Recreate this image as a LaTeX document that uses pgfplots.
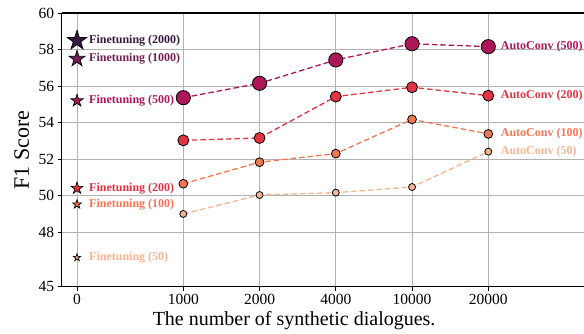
\documentclass[border=0pt]{standalone}
\usepackage{fontspec}
\setmainfont{Liberation Serif}
\usepackage{pgfplots}
\pgfplotsset{compat=1.18}
\definecolor{c1}{HTML}{35193E}
\definecolor{c2}{HTML}{701F57}
\definecolor{c3}{HTML}{AD1759}
\definecolor{c4}{HTML}{E13342}
\definecolor{c5}{HTML}{F37651}
\definecolor{c6}{HTML}{F6B48F}
\pgfdeclareplotmark{fstar}{%
  \pgfpathmoveto{\pgfpointpolar{90}{\pgfplotmarksize}}%
  \pgfpathlineto{\pgfpointpolar{126}{0.382\pgfplotmarksize}}%
  \pgfpathlineto{\pgfpointpolar{162}{\pgfplotmarksize}}%
  \pgfpathlineto{\pgfpointpolar{198}{0.382\pgfplotmarksize}}%
  \pgfpathlineto{\pgfpointpolar{234}{\pgfplotmarksize}}%
  \pgfpathlineto{\pgfpointpolar{270}{0.382\pgfplotmarksize}}%
  \pgfpathlineto{\pgfpointpolar{306}{\pgfplotmarksize}}%
  \pgfpathlineto{\pgfpointpolar{342}{0.382\pgfplotmarksize}}%
  \pgfpathlineto{\pgfpointpolar{18}{\pgfplotmarksize}}%
  \pgfpathlineto{\pgfpointpolar{54}{0.382\pgfplotmarksize}}%
  \pgfpathclose
  \pgfusepathqfillstroke}
\begin{document}
\begin{tikzpicture}
\begin{axis}[
  scale only axis,
  width=522.3pt, height=273.4pt,
  xmin=-0.595, xmax=6.255,
  ymin=45, ymax=60,
  axis x line*=box, axis y line*=left,
  axis line style={line width=1.6pt, black},
  xtick={-0.394,1,2,3,4,5},
  xticklabels={0,1000,2000,4000,10000,20000},
  ytick={45,48,50,52,54,56,58,60},
  xtick pos=bottom, ytick pos=left,
  tick align=outside,
  major tick length=4pt,
  every tick/.style={black, line width=0.9pt},
  xmajorgrids, ymajorgrids,
  grid style={color=black!30, line width=0.8pt},
  /pgf/number format/assume math mode=true,
  xticklabel style={font=\fontsize{15.5}{17}\selectfont},
  yticklabel style={font=\fontsize{15.5}{17}\selectfont},
  xlabel={The number of synthetic dialogues.},
  ylabel={F1 Score},
  xlabel style={at={(rel axis cs:0.445,-0.0889)}, anchor=north, inner sep=0pt, font=\fontsize{20}{22}\selectfont},
  ylabel style={at={(rel axis cs:-0.0626,0.5)}, anchor=base, rotate=0, inner sep=0pt, font=\fontsize{22}{24}\selectfont},
  clip=false,
]
\coordinate (sw) at (rel axis cs:0,0);
\coordinate (ne) at (rel axis cs:1,1);
% AutoConv series
\addplot[c6, dashed, line width=1.3pt, dash pattern=on 5.5pt off 3pt, mark=*, mark size=3.5pt,
  mark options={solid, draw=black, fill=c6, line width=0.8pt}]
  coordinates {(1,48.99) (2,50.03) (3,50.16) (4,50.47) (5,52.41)};
\addplot[c5, dashed, line width=1.3pt, dash pattern=on 5.5pt off 3pt, mark=*, mark size=4.4pt,
  mark options={solid, draw=black, fill=c5, line width=0.8pt}]
  coordinates {(1,50.65) (2,51.83) (3,52.30) (4,54.18) (5,53.38)};
\addplot[c4, dashed, line width=1.3pt, dash pattern=on 5.5pt off 3pt, mark=*, mark size=5.5pt,
  mark options={solid, draw=black, fill=c4, line width=0.8pt}]
  coordinates {(1,53.03) (2,53.16) (3,55.43) (4,55.94) (5,55.48)};
\addplot[c3, dashed, line width=1.3pt, dash pattern=on 5.5pt off 3pt, mark=*, mark size=7.1pt,
  mark options={solid, draw=black, fill=c3, line width=0.8pt}]
  coordinates {(1,55.37) (2,56.16) (3,57.44) (4,58.33) (5,58.17)};
% Finetuning stars
\addplot[only marks, mark=fstar, mark size=10.3pt, mark options={draw=black, fill=c1, line width=0.7pt}] coordinates {(-0.394,58.5)};
\addplot[only marks, mark=fstar, mark size=8.4pt, mark options={draw=black, fill=c2, line width=0.7pt}] coordinates {(-0.394,57.5)};
\addplot[only marks, mark=fstar, mark size=6.4pt, mark options={draw=black, fill=c3, line width=0.7pt}] coordinates {(-0.394,55.2)};
\addplot[only marks, mark=fstar, mark size=6.2pt, mark options={draw=black, fill=c4, line width=0.7pt}] coordinates {(-0.394,50.4)};
\addplot[only marks, mark=fstar, mark size=4.6pt, mark options={draw=black, fill=c5, line width=0.7pt}] coordinates {(-0.394,49.52)};
\addplot[only marks, mark=fstar, mark size=3.8pt, mark options={draw=black, fill=c6, line width=0.7pt}] coordinates {(-0.394,46.6)};
% labels
\begin{scope}[every node/.style={anchor=west, inner sep=0pt, font=\fontsize{12}{13}\selectfont\bfseries}]
\node[text=c1, xshift=12pt] at (axis cs:-0.394,58.5) {Finetuning (2000)};
\node[text=c2, xshift=12pt] at (axis cs:-0.394,57.5) {Finetuning (1000)};
\node[text=c3, xshift=12pt] at (axis cs:-0.394,55.2) {Finetuning (500)};
\node[text=c4, xshift=12pt] at (axis cs:-0.394,50.4) {Finetuning (200)};
\node[text=c5, xshift=12pt] at (axis cs:-0.394,49.52) {Finetuning (100)};
\node[text=c6, xshift=12pt] at (axis cs:-0.394,46.6) {Finetuning (50)};
\node[text=c3, xshift=12.4pt] at (axis cs:5,58.17) {AutoConv (500)};
\node[text=c4, xshift=12.4pt] at (axis cs:5,55.48) {AutoConv (200)};
\node[text=c5, xshift=12.4pt] at (axis cs:5,53.38) {AutoConv (100)};
\node[text=c6, xshift=12.4pt] at (axis cs:5,52.41) {AutoConv (50)};
\end{scope}
\end{axis}
\pgfresetboundingbox
\path[use as bounding box] ([xshift=-61.7pt,yshift=-47.3pt]sw) rectangle ([yshift=13.3pt]ne);
\end{tikzpicture}
\end{document}
